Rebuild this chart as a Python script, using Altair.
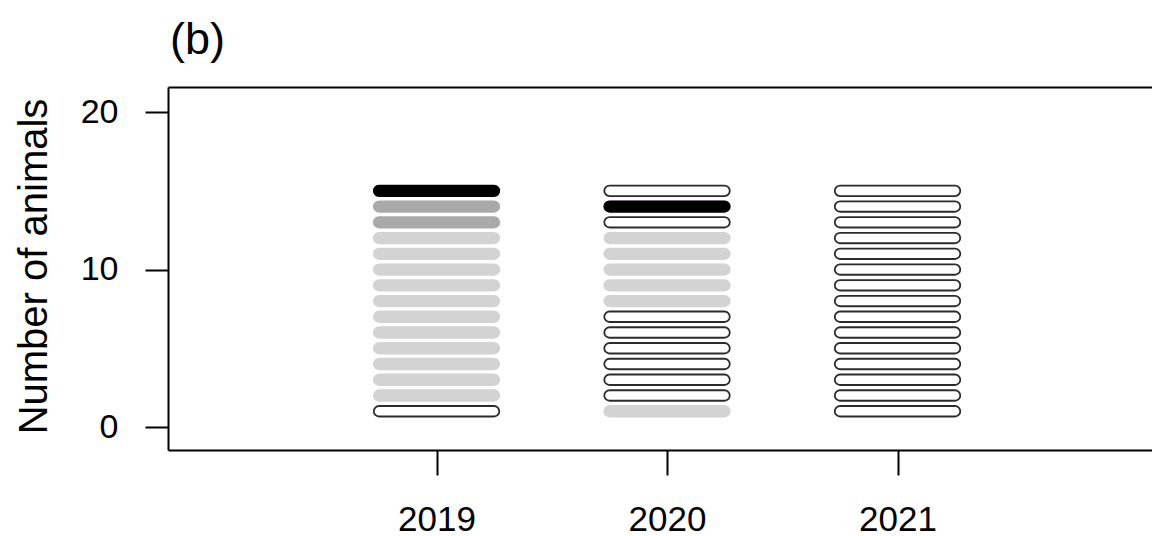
import altair as alt
import pandas as pd

# Survey years and the status of each animal, listed from the bottom slot (1) upward
years = [2019, 2020, 2021]
status_2019 = ["none", "low", "low", "low", "low", "low", "low", "low", "low",
               "low", "low", "low", "mid", "mid", "high"]
status_2020 = ["low", "none", "none", "none", "none", "none", "none", "low",
               "low", "low", "low", "low", "none", "high", "none"]
status_2021 = ["none", "none", "none", "none", "none", "none", "none", "none",
               "none", "none", "none", "none", "none", "none", "none"]

levels = ["none", "low", "mid", "high"]
fill_colors = ["#FFFFFF", "#D3D3D3", "#A9A9A9", "#000000"]
edge_colors = ["#2B2B2B", "#D3D3D3", "#A9A9A9", "#000000"]

y_ticks = [0, 10, 20]

rows = []
for year, statuses in zip(years, [status_2019, status_2020, status_2021]):
    for slot, status in enumerate(statuses, start=1):
        rows.append({"year": year, "slot": slot, "status": status})
df = pd.DataFrame(rows)

x_scale = alt.Scale(domain=[2017.835, 2022.104], nice=False, zero=False)
y_scale = alt.Scale(domain=[-1.46, 21.59], nice=False, zero=False)

label_font = "Liberation Sans, Arial, sans-serif"
title_font = "Liberation Sans Narrow, Arial Narrow, Liberation Sans, Arial, sans-serif"

base = alt.Chart(df).transform_calculate(
    x0="datum.year - 0.2722",
    x1="datum.year + 0.2722",
    y0="datum.slot - 0.333",
    y1="datum.slot + 0.333",
)

x_axis = alt.Axis(
    values=years, format="d", title=None, grid=False,
    labelFont=label_font, labelFontSize=35, labelColor="black", labelPadding=27,
    tickSize=25, tickWidth=2, tickColor="black",
    domainWidth=2, domainColor="black", labelFlush=False,
)
y_axis = alt.Axis(
    values=y_ticks, format="d", grid=False,
    title="Number of animals", titleFont=title_font, titleFontSize=40,
    titleFontWeight="normal", titleColor="black", titleAngle=270,
    titleX=-122, titleY=179, titleAlign="center", titleBaseline="alphabetic",
    labelFont=label_font, labelFontSize=34, labelColor="black", labelPadding=27,
    tickSize=23, tickWidth=2, tickColor="black",
    domainWidth=2, domainColor="black",
)
y_enc = alt.Y("y0:Q", scale=y_scale, axis=y_axis)

# faint purple rim peeking out above the solid black pills
rim = base.transform_filter(alt.datum.status == "high").mark_rect(
    cornerRadius=6, yOffset=-1, fill="#B548C8", stroke="#B548C8", strokeWidth=1
).encode(
    x=alt.X("x0:Q", scale=x_scale, axis=None),
    x2="x1:Q",
    y=y_enc,
    y2="y1:Q",
)

pills = base.mark_rect(cornerRadius=5.5, strokeWidth=1.8).encode(
    x=alt.X("x0:Q", scale=x_scale, axis=x_axis),
    x2="x1:Q",
    y=y_enc,
    y2="y1:Q",
    fill=alt.Fill("status:N", scale=alt.Scale(domain=levels, range=fill_colors), legend=None),
    stroke=alt.Stroke("status:N", scale=alt.Scale(domain=levels, range=edge_colors), legend=None),
)

# top edge of the frame
frame_top = base.mark_rect(opacity=0).encode(
    x=alt.X("x0:Q", scale=x_scale,
            axis=alt.Axis(orient="top", labels=False, ticks=False, title=None,
                          grid=False, domainWidth=2, domainColor="black",
                          minExtent=0, maxExtent=0)),
    y=y_enc,
)

chart = alt.layer(rim, pills, frame_top).resolve_axis(x="independent").properties(
    width=984,
    height=363,
    autosize=alt.AutoSizeParams(type="none"),
    padding={"left": 168, "top": 87, "right": 0, "bottom": 86},
    background="white",
    title=alt.TitleParams(
        "(b)", anchor="start", frame="group", font=title_font, fontSize=45,
        fontWeight="normal", color="black", baseline="alphabetic",
        offset=35, dx=2, dy=47,
    ),
).configure_view(stroke=None)

chart.save("out.html", embed_options={"renderer": "svg", "actions": False})
